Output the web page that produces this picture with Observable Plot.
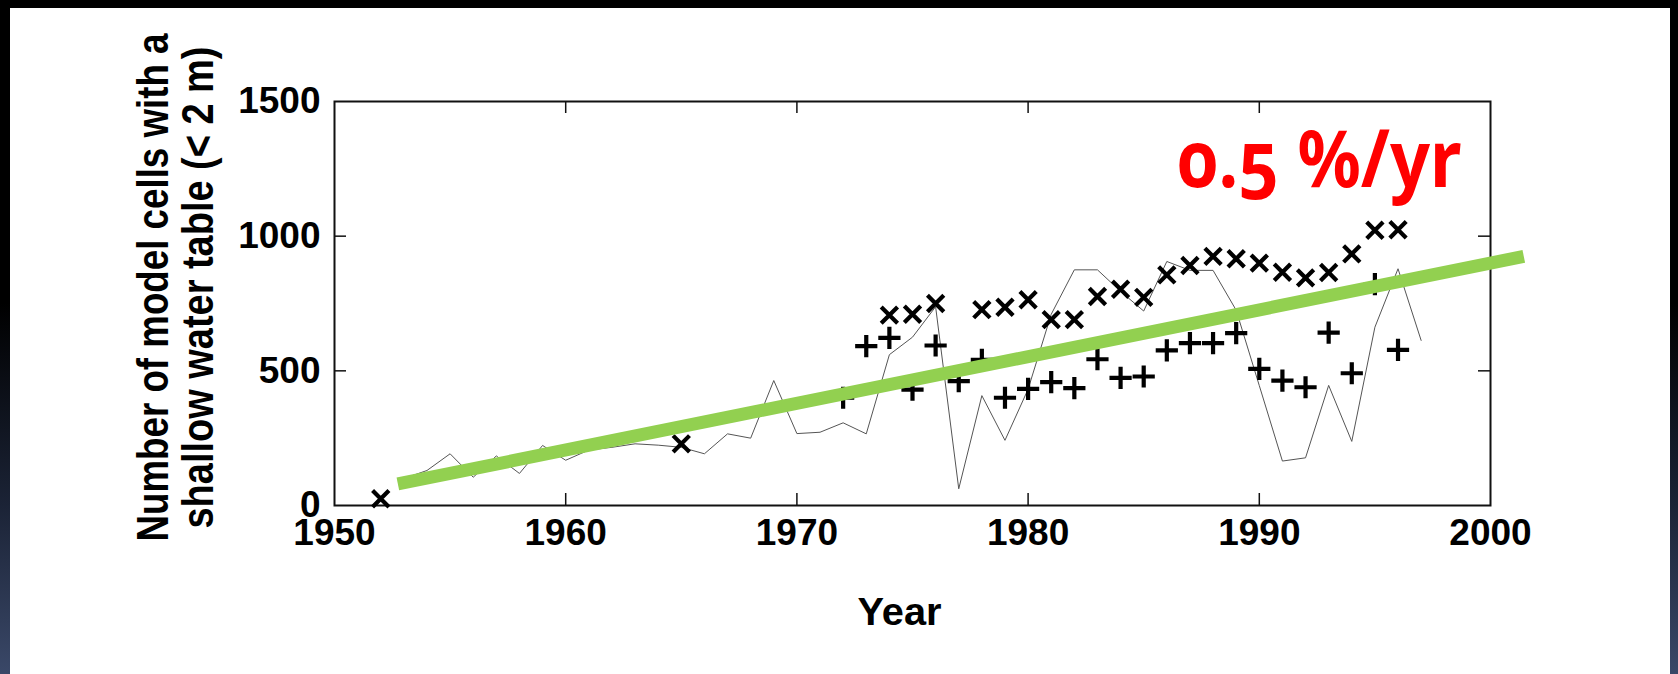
<!DOCTYPE html>
<html>
<head>
<meta charset="utf-8">
<script src="https://cdn.jsdelivr.net/npm/d3@7"></script>
<script src="https://cdn.jsdelivr.net/npm/@observablehq/plot@0.6"></script>
<style>
  html, body { margin: 0; padding: 0; }
  body {
    width: 1678px; height: 674px; overflow: hidden; position: relative;
    background: linear-gradient(180deg, #000 0%, #000 45%, #1b2336 75%, #3a4868 100%);
  }
  #panel { position: absolute; left: 10px; top: 8px; width: 1660px; height: 666px; background: #fff; }
  #chart { position: absolute; left: 0; top: 0; }
</style>
</head>
<body>
<div id="panel"></div>
<div id="chart"></div>
<script>
// Thin line series (model cells with shallow water table)
const lineYears  = [1953,1954,1955,1956,1957,1958,1959,1960,1961,1962,1963,1964,1965,1966,1967,1968,1969,1970,1971,1972,1973,1974,1975,1976,1977,1978,1979,1980,1981,1982,1983,1984,1985,1986,1987,1988,1989,1990,1991,1992,1993,1994,1995,1996,1997];
const lineValues = [100,130,192,105,184,119,223,168,206,216,229,224,216,192,266,250,464,267,272,307,266,560,625,738,62,408,242,432,710,875,875,795,722,906,873,873,725,445,165,177,446,238,662,879,613];

// "x" markers
const crossYears  = [1952,1965,1974,1975,1976,1978,1979,1980,1981,1982,1983,1984,1985,1986,1987,1988,1989,1990,1991,1992,1993,1994,1995,1996];
const crossValues = [25,229,707,710,750,727,736,764,690,690,776,803,773,856,891,925,916,900,866,845,865,934,1022,1024];

// "+" markers
const plusYears  = [1972,1973,1974,1975,1976,1977,1978,1979,1980,1981,1982,1983,1984,1985,1986,1987,1988,1989,1990,1991,1992,1993,1994,1995,1996];
const plusValues = [400,592,622,430,594,462,541,400,433,458,436,543,474,479,576,603,603,640,507,464,439,642,491,822,578];

// Green trend line (endpoints)
const trendYears  = [1952.74, 2001.44];
const trendValues = [80, 925];

// Axis ticks and labels
const xTickLabels = [1950, 1960, 1970, 1980, 1990, 2000];
const yTickLabels = [0, 500, 1000, 1500];
const xInnerTicks = [1960, 1970, 1980, 1990];
const yInnerTicks = [500, 1000];
const yLabelLines = ["Number of model cells with a", "shallow water table (< 2 m)"];
const xLabel = ["Year"];
const annotation = ["0.5 %/yr"];

const lineData  = lineYears.map((x, i) => ({x, y: lineValues[i]}));
const crossData = crossYears.map((x, i) => ({x, y: crossValues[i]}));
const plusData  = plusYears.map((x, i) => ({x, y: plusValues[i]}));
const trendData = trendYears.map((x, i) => ({x, y: trendValues[i]}));

const W = 1678, H = 674;
const mL = 334, mR = 188, mT = 101, mB = 169;
const frameW = W - mL - mR, frameH = H - mT - mB;
const font = "'Liberation Sans', Arial, Helvetica, sans-serif";

const chart = Plot.plot({
  width: W, height: H,
  marginLeft: mL, marginRight: mR, marginTop: mT, marginBottom: mB,
  style: {background: "transparent", fontFamily: font, overflow: "visible"},
  x: {domain: [1950, 2000]},
  y: {domain: [0, 1500]},
  marks: [
    Plot.tickX(xInnerTicks, {x: d => d, insetTop: frameH - 12, stroke: "#111", strokeWidth: 1.5}),
    Plot.tickX(xInnerTicks, {x: d => d, insetBottom: frameH - 12, stroke: "#111", strokeWidth: 1.5}),
    Plot.tickY(yInnerTicks, {y: d => d, insetRight: frameW - 12, stroke: "#111", strokeWidth: 1.5}),
    Plot.tickY(yInnerTicks, {y: d => d, insetLeft: frameW - 12, stroke: "#111", strokeWidth: 1.5}),
    Plot.frame({stroke: "#111", strokeWidth: 2}),
    Plot.axisX(xTickLabels, {tickSize: 0, tickPadding: 13, tickFormat: d => String(d), fontSize: 37, fontWeight: "bold", fill: "#000", label: null}),
    Plot.axisY(yTickLabels, {tickSize: 0, tickPadding: 14, tickFormat: d => String(d), fontSize: 37, fontWeight: "bold", fill: "#000", label: null}),
    Plot.line(lineData, {x: "x", y: "y", stroke: "#555", strokeWidth: 1}),
    Plot.dot(crossData, {x: "x", y: "y", symbol: "times", r: 7.5, stroke: "#000", strokeWidth: 4.2}),
    Plot.dot(plusData, {x: "x", y: "y", symbol: "plus", r: 7.2, stroke: "#000", strokeWidth: 4.2}),
    Plot.line(trendData, {x: "x", y: "y", stroke: "#92D050", strokeWidth: 13, strokeLinecap: "butt"}),
    Plot.text([yLabelLines[0]], {frameAnchor: "left", rotate: -90, dx: -167, dy: -16, textAnchor: "middle", lineAnchor: "bottom", fontSize: 37, fontWeight: "bold", fill: "#000"}),
    Plot.text([yLabelLines[1]], {frameAnchor: "left", rotate: -90, dx: -122, dy: -16, textAnchor: "middle", lineAnchor: "bottom", fontSize: 37, fontWeight: "bold", fill: "#000"}),
    Plot.text(xLabel, {frameAnchor: "bottom", dx: -13, dy: 119, textAnchor: "middle", lineAnchor: "bottom", fontSize: 39, fontWeight: "bold", fill: "#000"}),
    Plot.text(annotation, {frameAnchor: "top-right", dx: -313, dy: 85, textAnchor: "start", lineAnchor: "bottom", fontSize: 78, fontWeight: "bold", fill: "#ff0000", fontFamily: "'Noto Sans', Lato, 'Open Sans', sans-serif"})
  ]
});

document.getElementById("chart").appendChild(chart);

const svg = d3.select(chart);
const byText = (txt) => svg.selectAll("text").filter(function () { return this.textContent === txt; });
// y label: taller glyphs across the line (reference glyphs are tall and narrow)
byText(yLabelLines[0]).attr("textLength", 508).attr("lengthAdjust", "spacingAndGlyphs")
  .attr("transform", function () { return this.getAttribute("transform") + " scale(1,1.18)"; });
byText(yLabelLines[1]).attr("textLength", 482).attr("lengthAdjust", "spacingAndGlyphs")
  .attr("transform", function () { return this.getAttribute("transform") + " scale(1,1.18)"; });
byText(xLabel[0]).attr("textLength", 84).attr("lengthAdjust", "spacingAndGlyphs");
byText(annotation[0])
  .style("font-variant-numeric", "oldstyle-nums")
  .style("font-feature-settings", "'onum' 1")
  .attr("textLength", 284).attr("lengthAdjust", "spacingAndGlyphs");
</script>
</body>
</html>
